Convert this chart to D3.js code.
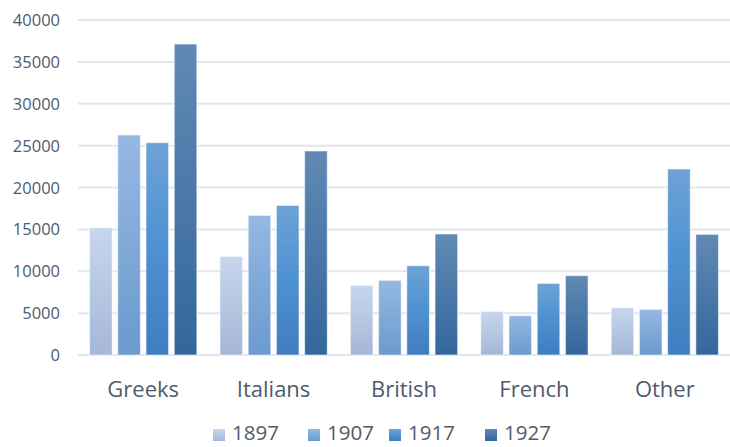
<!DOCTYPE html>
<html>
<head>
<meta charset="utf-8">
<script src="https://cdn.jsdelivr.net/npm/d3@7"></script>
<style>
  body { margin: 0; background: #fff; }
  text { font-family: "Open Sans", sans-serif; fill: #4f5b6c; }
</style>
</head>
<body>
<svg id="chart" width="730" height="447"></svg>
<script>
var groups = ["Greeks", "Italians", "British", "French", "Other"];
var years = ["1897", "1907", "1917", "1927"];
var v1897 = [15200, 11770, 8310, 5200, 5650];
var v1907 = [26270, 16670, 8910, 4690, 5450];
var v1917 = [25350, 17860, 10660, 8550, 22210];
var v1927 = [37130, 24360, 14450, 9470, 14400];
var yTicks = [0, 5000, 10000, 15000, 20000, 25000, 30000, 35000, 40000];

// top / bottom gradient colours per series
var shades = [
  ["#c6d6ed", "#a5b7d6"],
  ["#95b8e3", "#6b9acd"],
  ["#6ea2d6", "#3f7dbf"],
  ["#6189b4", "#33679c"]
];

var series = [v1897, v1907, v1917, v1927];
var svg = d3.select("#chart");
var mLeft = 78, mRight = 730, mTop = 20, mBottom = 355;

var x = d3.scaleBand().domain(groups).range([mLeft, mRight]).paddingInner(0).paddingOuter(0);
var xs = d3.scaleBand().domain(years).range([11, x.bandwidth() - 11]).paddingInner(0.2).paddingOuter(0.02);
var y = d3.scaleLinear().domain([0, 40000]).range([mBottom, mTop]);

var defs = svg.append("defs");
shades.forEach(function(s, i) {
  var g = defs.append("linearGradient").attr("id", "g" + i)
    .attr("x1", 0).attr("y1", 0).attr("x2", 0).attr("y2", 1);
  g.append("stop").attr("offset", "0%").attr("stop-color", s[0]);
  g.append("stop").attr("offset", i == 2 ? "45%" : "50%").attr("stop-color", i == 2 ? "#5093d2" : d3.interpolateRgb(s[0], s[1])(0.5));
  g.append("stop").attr("offset", "100%").attr("stop-color", s[1]);
});

// grid
svg.append("g").selectAll("line").data(yTicks).enter().append("line")
  .attr("x1", mLeft).attr("x2", mRight)
  .attr("y1", function(d) { return y(d); }).attr("y2", function(d) { return y(d); })
  .attr("stroke", "#e2e7ee").attr("stroke-width", 2);

svg.append("g").selectAll("text").data(yTicks).enter().append("text")
  .attr("x", 60).attr("y", function(d) { return y(d) + 6; })
  .attr("text-anchor", "end").style("font-size", "16.5px")
  .text(function(d) { return d; });

// bars
groups.forEach(function(grp, gi) {
  years.forEach(function(yr, si) {
    var val = series[si][gi];
    svg.append("rect")
      .attr("x", x(grp) + xs(yr))
      .attr("y", y(val))
      .attr("width", xs.bandwidth())
      .attr("height", y(0) - y(val))
      .attr("fill", "url(#g" + si + ")")
      .attr("stroke", "rgba(255,255,255,0.55)")
      .attr("stroke-width", 1);
  });
});

svg.append("g").selectAll("text").data(groups).enter().append("text")
  .attr("x", function(d) { return x(d) + x.bandwidth() / 2; })
  .attr("y", 396.5)
  .attr("text-anchor", "middle").style("font-size", "22px")
  .text(function(d) { return d; });

// legend
var lx = [213, 308, 389, 485];
var leg = svg.append("g");
years.forEach(function(yr, i) {
  leg.append("rect").attr("x", lx[i]).attr("y", 429).attr("width", 12).attr("height", 12)
    .attr("fill", "url(#g" + i + ")");
  leg.append("text").attr("x", lx[i] + 19).attr("y", 440).style("font-size", "20.5px").text(yr);
});
</script>
</body>
</html>
